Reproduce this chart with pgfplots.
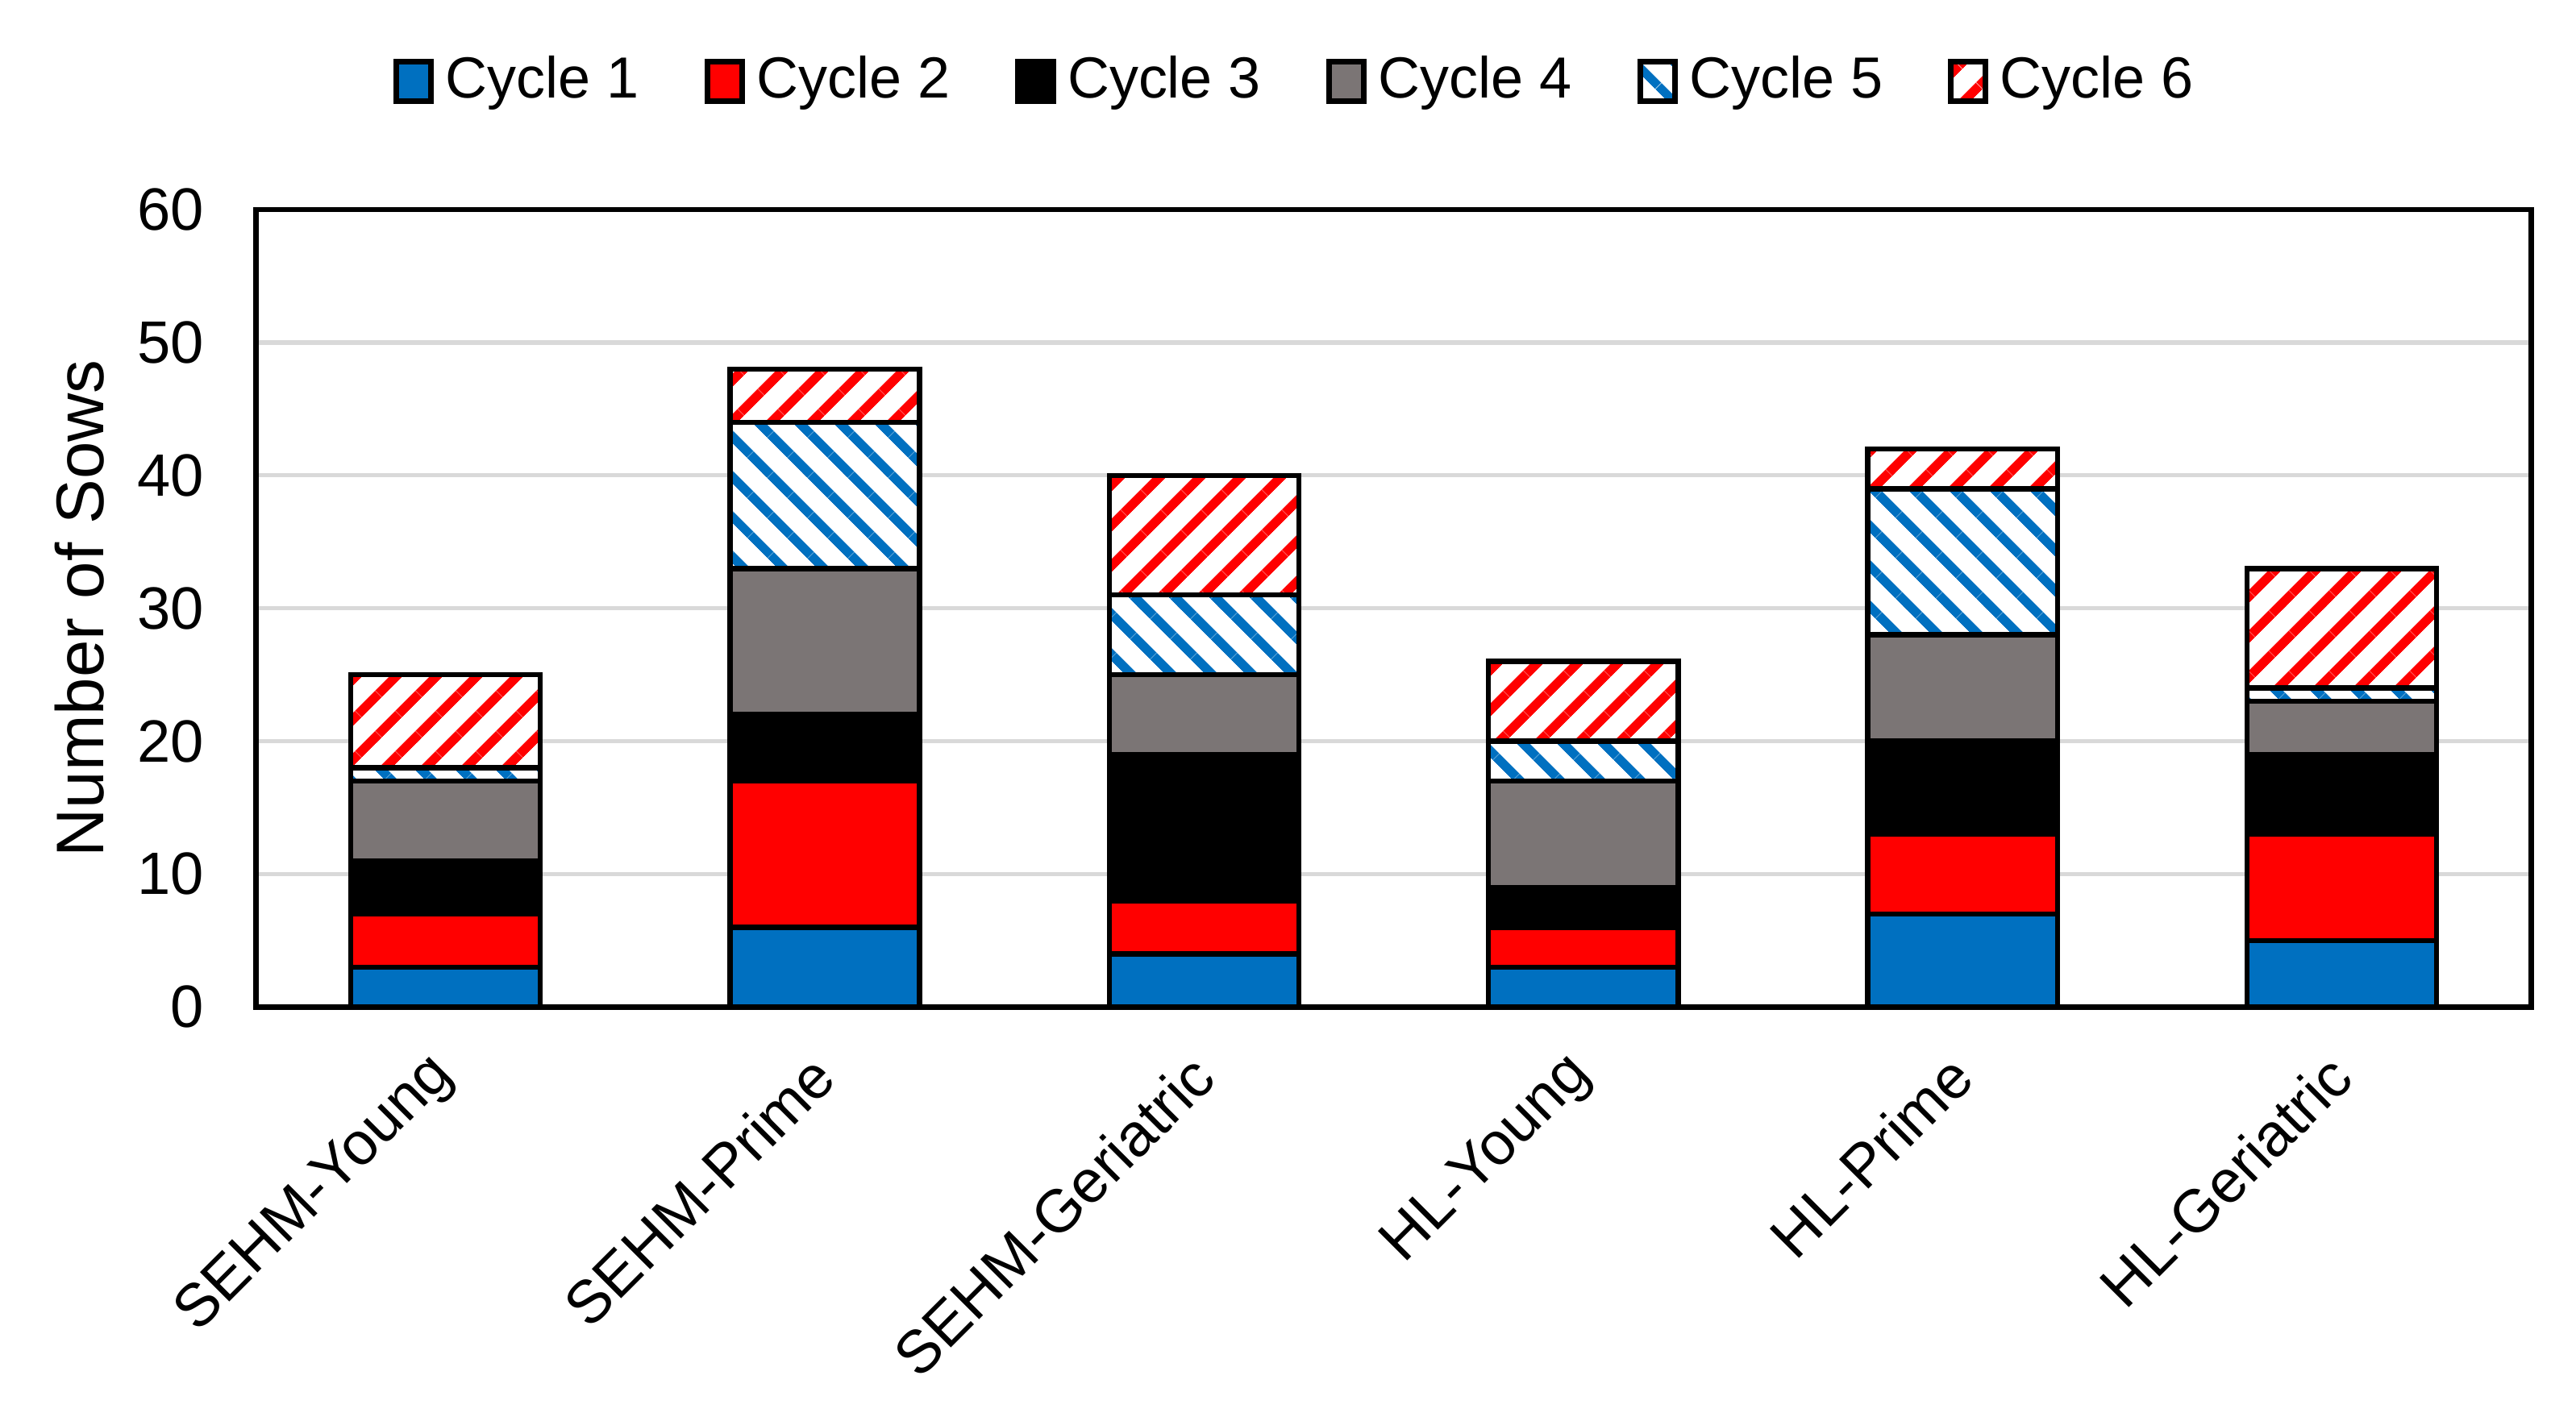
\documentclass[border=0pt]{standalone}
\usepackage{pgfplots}
\pgfplotsset{compat=1.18}
\usepackage{fontspec}
\setmainfont{Liberation Sans}
\usetikzlibrary{patterns.meta}
\definecolor{cblue}{HTML}{0070C0}
\definecolor{cred}{HTML}{FF0000}
\definecolor{cgray}{HTML}{7B7575}
\definecolor{cgrid}{HTML}{D9D9D9}
\pgfdeclarepattern{
  name=stripesRed,
  type=colored,
  bottom left={\pgfpointorigin},
  top right={\pgfpoint{1.75mm}{1.75mm}},
  tile size={\pgfpoint{1.75mm}{1.75mm}},
  tile transformation={\pgftransformrotate{45}},
  code={
    \pgfsetfillcolor{white}
    \pgfpathrectangle{\pgfpointorigin}{\pgfpoint{1.75mm}{1.75mm}}
    \pgfusepath{fill}
    \pgfsetfillcolor{cred}
    \pgfpathrectangle{\pgfpointorigin}{\pgfpoint{1.75mm}{0.58mm}}
    \pgfusepath{fill}
  }
}
\pgfdeclarepattern{
  name=stripesBlue,
  type=colored,
  bottom left={\pgfpointorigin},
  top right={\pgfpoint{1.75mm}{1.75mm}},
  tile size={\pgfpoint{1.75mm}{1.75mm}},
  tile transformation={\pgftransformrotate{-45}},
  code={
    \pgfsetfillcolor{white}
    \pgfpathrectangle{\pgfpointorigin}{\pgfpoint{1.75mm}{1.75mm}}
    \pgfusepath{fill}
    \pgfsetfillcolor{cblue}
    \pgfpathrectangle{\pgfpointorigin}{\pgfpoint{1.75mm}{0.58mm}}
    \pgfusepath{fill}
  }
}
\begin{document}
\begin{tikzpicture}
\begin{axis}[
  scale only axis,
  width=137.8mm, height=48.3mm,
  ybar stacked,
  bar width=0.5,
  xmin=-0.5, xmax=5.5,
  ymin=0, ymax=60,
  ytick={0,10,...,60},
  xtick={0,1,2,3,4,5},
  xticklabels={SEHM-Young,SEHM-Prime,SEHM-Geriatric,HL-Young,HL-Prime,HL-Geriatric},
  major tick length=0pt,
  axis line style={line width=0.9pt},
  ymajorgrids,
  grid style={cgrid, line width=0.7pt},
  /pgf/number format/assume math mode=true,
  yticklabel style={font=\fontsize{10.3}{12}\selectfont, xshift=-1.9mm},
  xticklabel style={font=\fontsize{10.4}{12}\selectfont, xshift=0.8mm, yshift=-2.7mm, rotate=45, anchor=east},
  ylabel={Number of Sows},
  every axis y label/.style={at={(axis description cs:-0.0777,0.5)}, rotate=90, anchor=center, font=\fontsize{11.6}{14}\selectfont},
  legend columns=6,
  legend style={draw=none, at={(0.4586,1.161)}, anchor=center, font=\fontsize{10}{12}\selectfont,
    /tikz/every even column/.append style={column sep=3.25mm},
    /tikz/every odd column/.append style={column sep=0mm}},
  legend image code/.code={\draw[#1, line width=1pt] (0mm,-1.2mm) rectangle (2.1mm,1.2mm);},
  every axis plot/.append style={draw=black, line width=0.9pt},
]
\addplot[fill=cblue] coordinates {(0,3) (1,6) (2,4) (3,3) (4,7) (5,5)};
\addplot[fill=cred] coordinates {(0,4) (1,11) (2,4) (3,3) (4,6) (5,8)};
\addplot[fill=black] coordinates {(0,4) (1,5) (2,11) (3,3) (4,7) (5,6)};
\addplot[fill=cgray] coordinates {(0,6) (1,11) (2,6) (3,8) (4,8) (5,4)};
\addplot[pattern=stripesBlue] coordinates {(0,1) (1,11) (2,6) (3,3) (4,11) (5,1)};
\addplot[pattern=stripesRed] coordinates {(0,7) (1,4) (2,9) (3,6) (4,3) (5,9)};
\legend{Cycle 1,Cycle 2,Cycle 3,Cycle 4,Cycle 5,Cycle 6}
\coordinate (SW) at (rel axis cs:0,0);
\coordinate (NE) at (rel axis cs:1,1);
\end{axis}
\pgfresetboundingbox
\path[use as bounding box] ([shift={(-15.5mm,-24.8mm)}]SW) rectangle ([shift={(2.7mm,12.7mm)}]NE);
\end{tikzpicture}
\end{document}
